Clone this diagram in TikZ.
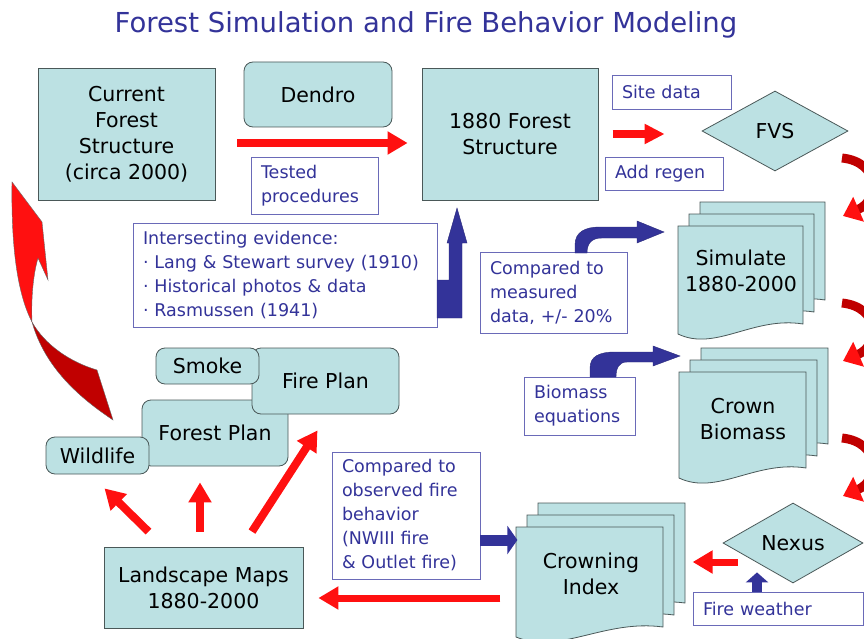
\documentclass[tikz,border=0pt]{standalone}
\usepackage{fontspec}
\setmainfont{DejaVu Sans}
\usetikzlibrary{arrows.meta,calc,shapes.geometric}

\definecolor{boxfill}{HTML}{BCE1E3}
\definecolor{boxedge}{HTML}{4A5858}
\definecolor{navy}{HTML}{333399}
\definecolor{noteedge}{HTML}{6A6AB8}
\definecolor{arrowred}{HTML}{FF1010}
\definecolor{darkred}{HTML}{C00000}

\tikzset{
  tealbox/.style={draw=boxedge, fill=boxfill, line width=0.8pt, align=center,
    inner sep=0pt, font=\fontsize{20.5}{26}\selectfont},
  roundbox/.style={tealbox, rounded corners=9pt},
  diamondbox/.style={tealbox, diamond},
  notebox/.style={draw=noteedge, fill=white, line width=0.8pt, text=navy,
    align=left, inner xsep=10pt, inner ysep=0pt, font=\fontsize{17.5}{24}\selectfont},
  doctext/.style={align=center, inner sep=0pt, font=\fontsize{20.5}{26}\selectfont},
  docstyle/.style={draw=boxedge, fill=boxfill, line width=0.8pt},
  redarrow/.style={draw=arrowred, line width=8pt,
    -{Triangle[length=20pt,width=22pt]}},
  bluearrow/.style={draw=navy, line width=11pt,
    -{Triangle[length=10pt,width=28pt]}},
  bendarrow/.style={fill=navy, draw=navy!80!black, line width=0.4pt},
  turnarrow/.style={draw=darkred, line width=9pt,
    -{Triangle[length=17pt,width=26pt,color=arrowred]}},
}

% one sheet of a stacked document with a wavy lower edge: x, y (top left), width, height
\newcommand\docsheet[4]{%
  \filldraw[docstyle] (#1,#2) -- (#1+#3,#2) -- (#1+#3,#2+#4-10)
    .. controls (#1+0.6*#3,#2+#4-18) and (#1+0.3*#3,#2+#4+18) .. (#1,#2+#4) -- cycle;}
% three sheets, the front one last
\newcommand\docstack[4]{%
  \docsheet{#1+22}{#2-24}{#3}{#4}%
  \docsheet{#1+11}{#2-12}{#3}{#4}%
  \docsheet{#1}{#2}{#3}{#4}}

\begin{document}
\begin{tikzpicture}[x=1pt, y=-1pt]
\useasboundingbox (0,0) rectangle (864,639);

% title
\node[text=navy, font=\fontsize{27.5}{30}\selectfont] (title) at (426,25)
  {Forest Simulation and Fire Behavior Modeling};

% top row
\node[tealbox, minimum width=177pt, minimum height=132pt] (cur) at (126.5,134)
  {Current\\Forest\\Structure\\(circa 2000)};
\node[roundbox, minimum width=148pt, minimum height=65pt] (dendro) at (318,94.5) {Dendro};
\node[notebox, minimum width=127pt, minimum height=57pt, text width=107pt] (tested) at (314.5,185.5)
  {Tested\\procedures};
\node[tealbox, minimum width=176pt, minimum height=132pt] (f1880) at (510,134)
  {1880 Forest\\Structure};
\node[notebox, minimum width=119pt, minimum height=34pt, text width=99pt] (site) at (671.5,92) {Site data};
\node[notebox, minimum width=118pt, minimum height=33pt, text width=98pt] (regen) at (664,173.5) {Add regen};
\node[diamondbox, minimum width=146pt, minimum height=80pt] (fvs) at (775,131) {FVS};

% evidence and comparison notes
\node[notebox, minimum width=304pt, minimum height=104pt, text width=284pt] (intersect) at (285,275)
  {Intersecting evidence:\\· Lang \& Stewart survey (1910)\\· Historical photos \& data\\· Rasmussen (1941)};
\node[notebox, minimum width=147pt, minimum height=81pt, text width=127pt] (measured) at (553.5,292.5)
  {Compared to\\measured\\data, +/- 20\%};
\node[notebox, minimum width=111pt, minimum height=58pt, text width=91pt] (biomass) at (579.5,406)
  {Biomass\\equations};
\node[notebox, minimum width=148pt, minimum height=127pt, text width=128pt] (observed) at (406,515.5)
  {Compared to\\observed fire\\behavior\\(NWIII fire\\\& Outlet fire)};
\node[notebox, minimum width=170pt, minimum height=33pt, text width=150pt] (weather) at (778,608.5)
  {Fire weather};

% stacked documents
\docstack{678}{226}{125}{108}
\node[doctext] (sim) at (741,271) {Simulate\\1880-2000};
\docstack{679}{372}{127}{106}
\node[doctext] (crown) at (743,419) {Crown\\Biomass};
\docstack{516}{527}{147}{110}
\node[doctext] (crowning) at (591,574) {Crowning\\Index};

\node[diamondbox, minimum width=140pt, minimum height=80pt] (nexus) at (793,543) {Nexus};

% planning boxes
\node[roundbox, minimum width=146pt, minimum height=66pt] (forestplan) at (215,433) {Forest Plan};
\node[roundbox, minimum width=103pt, minimum height=37pt] (wildlife) at (97.5,455.5) {Wildlife};
\node[roundbox, minimum width=147pt, minimum height=66pt] (fireplan) at (325.5,381) {Fire Plan};
\node[roundbox, minimum width=103pt, minimum height=36pt] (smoke) at (207.5,366) {Smoke};
\node[tealbox, minimum width=199pt, minimum height=81pt] (landscape) at (203.5,587.5)
  {Landscape Maps\\1880-2000};

% straight red connectors
\draw[redarrow] ($(cur.east)+(22,9)$) -- ($(f1880.west)+(-14,9)$);
\draw[redarrow, -{Triangle[length=20pt,width=19pt]}] ($(fvs.west)+(-89,3)$) -- ($(fvs.west)+(-37,3)$);
\draw[redarrow, line width=7pt] ($(nexus.west)+(15,19)$) -- ($(nexus.west)+(-30,19)$);
\draw[redarrow, line width=7pt] ($(landscape.east)+(197,10.5)$) -- ($(landscape.east)+(15,10.5)$);
\draw[redarrow] ($(landscape.north)+(-55,-15)$) -- ($(wildlife.south)+(7,14)$);
\draw[redarrow] ($(landscape.north)+(-3.5,-15)$) -- ($(forestplan.south)+(-15,16)$);
\draw[redarrow] ($(landscape.north)+(48.5,-15)$) -- ($(fireplan.south)+(-8,16)$);

% straight blue connectors
\draw[bluearrow] ($(observed.east)+(0,24.5)$) -- ($(observed.east)+(37,24.5)$);
\draw[bluearrow, line width=10pt, -{Triangle[length=10pt,width=22pt]}]
  ($(weather.north)+(-21,0)$) -- ($(nexus.south)+(-36,-11)$);

% bent blue arrows
\filldraw[bendarrow] (437,318) -- (462,318) -- (462,243) -- (467,243) -- (457,208)
  -- (447,243) -- (449,243) -- (449,280) -- (437,280) -- cycle;
\filldraw[bendarrow] (575,253) -- (575,245) .. controls (575,232) and (585,227) .. (600,227)
  -- (637,227) -- (637,221) -- (664,232) -- (637,243) -- (637,238) -- (602,238)
  .. controls (592,238) and (587,243) .. (587,253) -- cycle;
\filldraw[bendarrow] (590,377) -- (590,368) .. controls (590,356) and (600,352) .. (615,352)
  -- (653,352) -- (653,346) -- (680,356) -- (653,366) -- (653,362) -- (627,362)
  .. controls (619,362) and (616,368) .. (616,377) -- cycle;

% turning arrows on the right edge
\coordinate (t1) at (842,158);
\coordinate (t2) at (842,303);
\coordinate (t3) at (842,438);
\foreach \t in {t1,t2,t3}{
  \draw[turnarrow] (\t) .. controls ($(\t)+(38,4)$) and ($(\t)+(38,42)$) .. ($(\t)+(1,58)$);
}

% large curved arrow from the planning boxes back to the current structure
\filldraw[fill=darkred, draw=black!60, line width=0.4pt]
  (97,370) -- (113,420) .. controls (80,398) and (45,368) .. (32,322)
  .. controls (45,345) and (70,362) .. (97,370) -- cycle;
\filldraw[fill=arrowred, draw=black!60, line width=0.4pt]
  (32,322) .. controls (18,295) and (11,250) .. (12,182) -- (42,222) -- (48,280)
  -- (38,258) .. controls (33,275) and (31,300) .. (32,322) -- cycle;

\end{tikzpicture}
\end{document}
